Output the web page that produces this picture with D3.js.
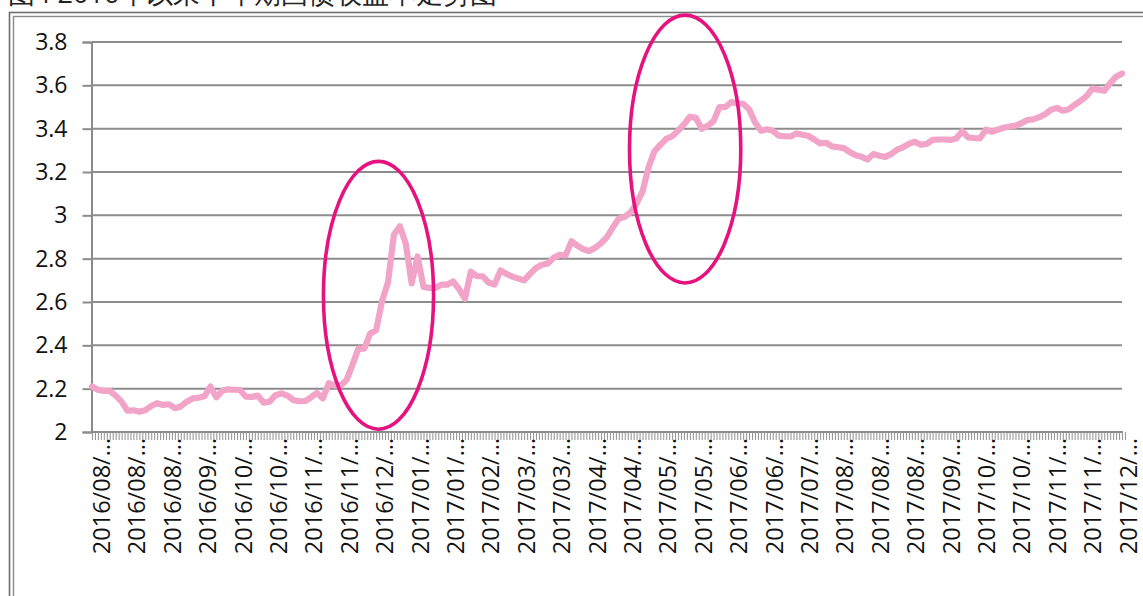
<!DOCTYPE html>
<html>
<head>
<meta charset="utf-8">
<script src="https://cdn.jsdelivr.net/npm/d3@7"></script>
<style>
  html, body { margin: 0; padding: 0; background: #fff; overflow: hidden; }
  svg { display: block; }
  text { font-family: "Open Sans", "Noto Sans", sans-serif; }
</style>
</head>
<body>
<svg id="chart" width="1143" height="596"></svg>
<script>
// ---- data ----
const titleText = "图4  2016年以来十年期国债收益率走势图";

const yTickValues = [2, 2.2, 2.4, 2.6, 2.8, 3, 3.2, 3.4, 3.6, 3.8];
const yTickLabels = ["2", "2.2", "2.4", "2.6", "2.8", "3", "3.2", "3.4", "3.6", "3.8"];

const xTickLabels = [
  "2016/08/…", "2016/08/…", "2016/08/…", "2016/09/…", "2016/10/…", "2016/10/…",
  "2016/11/…", "2016/11/…", "2016/12/…", "2017/01/…", "2017/01/…", "2017/02/…",
  "2017/03/…", "2017/03/…", "2017/04/…", "2017/04/…", "2017/05/…", "2017/05/…",
  "2017/06/…", "2017/06/…", "2017/07/…", "2017/08/…", "2017/08/…", "2017/08/…",
  "2017/09/…", "2017/10/…", "2017/10/…", "2017/11/…", "2017/11/…", "2017/12/…"
];

const yields = [
  2.21, 2.195, 2.19, 2.19, 2.168, 2.14, 2.098, 2.10, 2.094, 2.10,
  2.12, 2.133, 2.125, 2.128, 2.11, 2.118, 2.14, 2.155, 2.158, 2.165,
  2.21, 2.16, 2.19, 2.197, 2.195, 2.194, 2.163, 2.162, 2.168, 2.135,
  2.14, 2.17, 2.178, 2.168, 2.148, 2.142, 2.143, 2.16, 2.18, 2.155,
  2.225, 2.215, 2.214, 2.24, 2.31, 2.385, 2.385, 2.455, 2.47, 2.605,
  2.69, 2.91, 2.95, 2.87, 2.686, 2.81, 2.67, 2.665, 2.665, 2.68,
  2.68, 2.695, 2.66, 2.615, 2.74, 2.72, 2.718, 2.69, 2.68, 2.745,
  2.73, 2.717, 2.708, 2.70, 2.73, 2.757, 2.772, 2.778, 2.805, 2.818,
  2.815, 2.88, 2.86, 2.843, 2.835, 2.85, 2.872, 2.90, 2.945, 2.985,
  2.993, 3.015, 3.055, 3.11, 3.22, 3.295, 3.325, 3.353, 3.365, 3.39,
  3.42, 3.455, 3.45, 3.40, 3.413, 3.435, 3.50, 3.50, 3.523, 3.517,
  3.515, 3.49, 3.43, 3.39, 3.397, 3.39, 3.368, 3.365, 3.364, 3.378,
  3.372, 3.367, 3.35, 3.332, 3.335, 3.318, 3.314, 3.31, 3.292, 3.277,
  3.27, 3.258, 3.283, 3.275, 3.27, 3.283, 3.303, 3.314, 3.33, 3.34,
  3.326, 3.33, 3.348, 3.35, 3.35, 3.348, 3.355, 3.388, 3.36, 3.357,
  3.355, 3.395, 3.386, 3.395, 3.404, 3.41, 3.414, 3.425, 3.44, 3.443,
  3.453, 3.467, 3.487, 3.496, 3.483, 3.49, 3.51, 3.528, 3.55, 3.585,
  3.58, 3.575, 3.61, 3.64, 3.655
];

// highlighted periods (ellipse annotations, in data units)
const highlightCenterIndex = [48.4, 100.2];
const highlightCenterValue = [2.631, 3.306];
const highlightHalfSpanIndex = [9.3, 9.4];
const highlightHalfSpanValue = [0.618, 0.618];

// ---- drawing ----
const svg = d3.select("#chart");
const W = 1143, H = 596;
const plot = { left: 92, right: 1122, top: 42, bottom: 432 };

// outer double frame
svg.append("rect").attr("x", 9.5).attr("y", 12.5).attr("width", W + 20).attr("height", H + 20)
  .attr("fill", "none").attr("stroke", "#6e6e6e").attr("stroke-width", 1.6);
svg.append("rect").attr("x", 13.5).attr("y", 16.5).attr("width", W + 20).attr("height", H + 20)
  .attr("fill", "none").attr("stroke", "#8a8a8a").attr("stroke-width", 1.4);

// title (mostly cropped at the top edge, as in the reference)
svg.append("text").attr("x", 8).attr("y", 3).attr("font-size", 27)
  .attr("font-family", "'Noto Sans CJK SC', sans-serif").attr("fill", "#222").text(titleText);

const x = d3.scaleLinear().domain([0, yields.length - 1]).range([plot.left, plot.right]);
const y = d3.scaleLinear().domain([2, 3.8]).range([plot.bottom, plot.top]);

// gridlines
svg.append("g").selectAll("line").data(yTickValues.filter(v => v > 2)).join("line")
  .attr("x1", plot.left).attr("x2", plot.right)
  .attr("y1", d => y(d)).attr("y2", d => y(d))
  .attr("stroke", "#8c8c8c").attr("stroke-width", 2);

// y axis
const yAxis = svg.append("g").attr("transform", `translate(${plot.left - 0.5},0)`)
  .call(d3.axisLeft(y).tickValues(yTickValues).tickSize(9).tickPadding(15)
    .tickFormat((d, i) => yTickLabels[i]));
yAxis.select(".domain").attr("stroke", "#8c8c8c").attr("stroke-width", 2);
yAxis.selectAll(".tick line").attr("stroke", "#8c8c8c").attr("stroke-width", 2);
yAxis.selectAll(".tick text").attr("font-size", 23).attr("fill", "#111")
  .attr("font-family", "'Open Sans', sans-serif");

// x axis minor ticks (every half step)
const minorTicks = d3.range(0, yields.length - 0.5 + 0.01, 0.5);
const xMinor = svg.append("g").attr("transform", `translate(0,${plot.bottom})`)
  .call(d3.axisBottom(x).tickValues(minorTicks).tickSize(8).tickFormat(""));
xMinor.select(".domain").remove();
xMinor.selectAll(".tick line").attr("stroke", "#9a9a9a").attr("stroke-width", 1.1);

// x axis labels
const labelIdx = xTickLabels.map((d, i) => 1.52 + i * 5.98);
const xAxis = svg.append("g").attr("transform", `translate(0,${plot.bottom})`)
  .call(d3.axisBottom(x).tickValues(labelIdx).tickSize(0).tickPadding(0)
    .tickFormat((d, i) => xTickLabels[i]));
xAxis.select(".domain").remove();
xAxis.selectAll(".tick text")
  .attr("font-size", 23.5).attr("fill", "#111")
  .attr("font-family", "'Open Sans', sans-serif")
  .attr("text-anchor", "end")
  .attr("transform", "rotate(-90)")
  .attr("x", -6).attr("y", 0).attr("dy", "0.36em");

// x axis baseline
svg.append("line").attr("x1", plot.left - 1).attr("x2", plot.right + 1)
  .attr("y1", plot.bottom).attr("y2", plot.bottom)
  .attr("stroke", "#8c8c8c").attr("stroke-width", 2.2);

// series line
const line = d3.line().x((d, i) => x(i)).y(d => y(d));
svg.append("path").datum(yields)
  .attr("d", line).attr("fill", "none")
  .attr("stroke", "#F2A3C8").attr("stroke-width", 6.2)
  .attr("stroke-linejoin", "round").attr("stroke-linecap", "round");

// ellipse annotations
svg.append("g").selectAll("ellipse").data(highlightCenterIndex).join("ellipse")
  .attr("cx", d => x(d))
  .attr("cy", (d, i) => y(highlightCenterValue[i]))
  .attr("rx", (d, i) => x(d + highlightHalfSpanIndex[i]) - x(d))
  .attr("ry", (d, i) => y(highlightCenterValue[i] - highlightHalfSpanValue[i]) - y(highlightCenterValue[i]))
  .attr("fill", "none").attr("stroke", "#E5127F").attr("stroke-width", 3.6);
</script>
</body>
</html>
